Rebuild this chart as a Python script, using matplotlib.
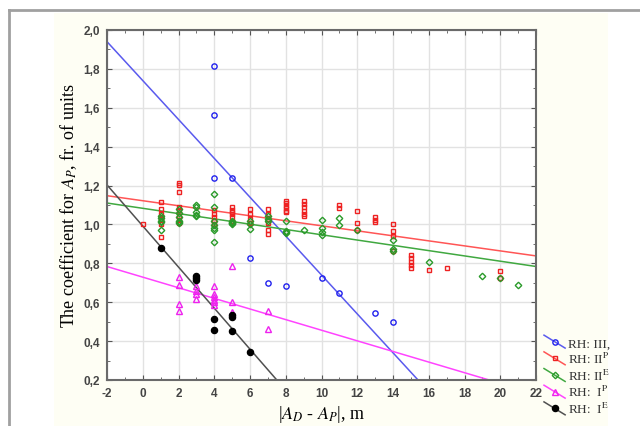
import numpy as np
import matplotlib.pyplot as plt
from matplotlib.legend_handler import HandlerLine2D
from matplotlib.lines import Line2D
from matplotlib.patches import Rectangle
from matplotlib.ticker import FuncFormatter, MultipleLocator

plt.rcParams['mathtext.fontset'] = 'stix'

# RH: III (blue circles)
x_iii = [4, 4, 4, 5, 6, 7, 8, 10, 11, 13, 14]
y_iii = [1.815, 1.563, 1.239, 1.239, 0.826, 0.698, 0.686, 0.725, 0.648, 0.543, 0.50]

# RH: II^P (red squares)
x_iip = [0, 1, 1, 1, 1, 1, 1, 1,
         2, 2, 2, 2, 2, 2, 2, 2,
         4, 4, 4, 4, 4,
         5, 5, 5, 5, 5, 5,
         6, 6, 6, 6,
         7, 7, 7, 7, 7, 7,
         8, 8, 8, 8, 8, 8,
         9, 9, 9, 9, 9, 9,
         11, 11, 12, 12, 12, 13, 13, 13,
         14, 14, 14, 14, 15, 15, 15, 15, 15,
         16, 17, 20, 20]
y_iip = [1.0, 1.118, 1.08, 1.055, 1.038, 1.03, 1.0, 0.935,
         1.215, 1.205, 1.168, 1.089, 1.072, 1.046, 1.025, 1.008,
         1.072, 1.055, 1.038, 1.02, 1.003,
         1.089, 1.072, 1.062, 1.055, 1.038, 1.02,
         1.077, 1.055, 1.03, 1.005,
         1.08, 1.055, 1.03, 1.01, 0.97, 0.95,
         1.123, 1.111, 1.097, 1.083, 1.071, 1.063,
         1.123, 1.106, 1.089, 1.071, 1.054, 1.042,
         1.101, 1.086, 1.067, 1.005, 0.972, 1.038, 1.024, 1.012,
         1.003, 0.964, 0.943, 0.866, 0.844, 0.827, 0.809, 0.792, 0.775,
         0.768, 0.777, 0.76, 0.724]

# RH: II^E (green diamonds)
x_iie = [1, 1, 1, 1, 1,
         2, 2, 2, 2, 2, 2,
         3, 3, 3, 3, 3,
         4, 4, 4, 4, 4, 4, 4,
         5, 5, 5, 5, 5,
         6, 6, 6,
         7, 7, 7,
         8, 8, 8, 8,
         9, 10, 10, 10, 10,
         11, 11, 12, 14, 14, 14,
         16, 19, 20, 21]
y_iie = [1.041, 1.035, 1.02, 1.012, 0.969,
         1.08, 1.06, 1.04, 1.02, 1.015, 1.01,
         1.101, 1.089, 1.064, 1.05, 1.046,
         1.158, 1.089, 1.02, 0.995, 0.98, 0.969, 0.912,
         1.02, 1.015, 1.01, 1.005, 1.0,
         1.02, 1.0, 0.975,
         1.045, 1.03, 1.02,
         1.017, 0.966, 0.96, 0.957,
         0.974, 1.025, 0.981, 0.96, 0.948,
         1.033, 0.995, 0.972, 0.922, 0.875, 0.866,
         0.809, 0.737, 0.725, 0.69]

# RH: I^P (magenta triangles)
x_ip = [2, 2, 2, 2, 3, 3, 3, 3, 4, 4, 4, 4, 4, 4, 5, 5, 5, 7, 7]
y_ip = [0.728, 0.69, 0.591, 0.554, 0.686, 0.66, 0.643, 0.617,
        0.686, 0.643, 0.626, 0.612, 0.6, 0.585, 0.786, 0.603, 0.549, 0.557, 0.463]

# RH: I^E (black dots)
x_ie = [1, 3, 3, 3, 4, 4, 5, 5, 5, 6]
y_ie = [0.88, 0.734, 0.725, 0.715, 0.514, 0.457, 0.535, 0.523, 0.452, 0.346]

# fitted lines: intercept, slope
fit_a = [1.74, 1.122, 1.083, 0.729, 0.992]
fit_b = [-0.100, -0.0129, -0.0136, -0.0273, -0.1056]

labels = ['RH: III,', r'RH: II$^{\mathrm{P}}$', r'RH: II$^{\mathrm{E}}$',
          r'RH:  I$^{\mathrm{P}}$', r'RH:  I$^{\mathrm{E}}$']
pt_colors = ['#2222ee', '#ee2222', '#2a9a2a', '#ee22ee', 'black']
ln_colors = ['#5a5aee', '#ff5555', '#40a840', '#ff44ff', '#505050']
markers = ['o', 's', 'D', '^', 'o']
sizes = [3.8, 3.5, 3.3, 3.9, 4.4]
xs = [x_iii, x_iip, x_iie, x_ip, x_ie]
ys = [y_iii, y_iip, y_iie, y_ip, y_ie]

fig = plt.figure(figsize=(6.4, 4.27), dpi=100)
fig.patch.set_facecolor('white')
fig.add_artist(Rectangle((54 / 640, 0), (608 - 54) / 640, 1 - 14 / 427,
                         transform=fig.transFigure, facecolor='#fefef4',
                         edgecolor='none', zorder=-5))
fig.add_artist(Line2D([9 / 640, 1], [1 - 11 / 427, 1 - 11 / 427],
                      transform=fig.transFigure, color='#a0a0a0', lw=2, zorder=-4))
fig.add_artist(Line2D([9 / 640, 9 / 640], [0, 1 - 11 / 427],
                      transform=fig.transFigure, color='#a0a0a0', lw=2, zorder=-4))

ax = fig.add_axes([107 / 640, 1 - 381 / 427, 429 / 640, 350 / 427])
ax.set_facecolor('white')

xl = np.linspace(-2, 22, 300)
handles = []
for i in range(5):
    mfc = 'black' if i == 4 else 'none'
    ax.plot(xs[i], ys[i], linestyle='none', marker=markers[i], ms=sizes[i],
            mfc=mfc, mec=pt_colors[i], mew=1.0, zorder=3)
    ax.plot(xl, fit_a[i] + fit_b[i] * xl, color=ln_colors[i], lw=1.1, zorder=2)
    handles.append(Line2D([], [], color=ln_colors[i], lw=1.1, marker=markers[i],
                          ms=sizes[i], mfc=mfc, mec=pt_colors[i], mew=1.0))

ax.set_xlim(-2, 22)
ax.set_ylim(0.2, 2.0)
ax.xaxis.set_major_locator(MultipleLocator(2))
ax.xaxis.set_minor_locator(MultipleLocator(1))
ax.yaxis.set_major_locator(MultipleLocator(0.2))
ax.yaxis.set_minor_locator(MultipleLocator(0.1))
ax.xaxis.set_major_formatter(FuncFormatter(lambda v, p: f"{v:.0f}"))
ax.yaxis.set_major_formatter(FuncFormatter(lambda v, p: f"{v:.1f}".replace('.', ',')))
ax.grid(True, which='major', color='#e2e2e2', lw=1.0, zorder=0)
ax.set_axisbelow(True)
ax.tick_params(which='both', direction='in', top=True, right=True,
               color='#555555', labelsize=8.5, labelcolor='#444444')
ax.tick_params(which='major', length=3.5, pad=5)
ax.tick_params(which='minor', length=2)
for lab in ax.get_xticklabels() + ax.get_yticklabels():
    lab.set_fontweight('bold')
    lab.set_family('Liberation Sans')
for s in ax.spines.values():
    s.set_color('#6a6a6a')
    s.set_linewidth(1.5)

ax.set_ylabel(r'The coefficient for $\mathit{A}_{P}$, fr. of units',
              family='Liberation Serif', fontsize=13, labelpad=3)
ax.set_xlabel(r'|$\mathit{A}_{D}$ - $\mathit{A}_{P}$|, m',
              family='Liberation Serif', fontsize=13, labelpad=3)


class DiagHandler(HandlerLine2D):
    def create_artists(self, legend, orig_handle, xdescent, ydescent,
                       width, height, fontsize, trans):
        arts = super().create_artists(legend, orig_handle, xdescent, ydescent,
                                      width, height, fontsize, trans)
        yc = (height - ydescent) / 2
        n = len(arts[0].get_xdata())
        arts[0].set_ydata(np.linspace(yc + height * 0.7, yc - height * 0.7, n))
        return arts


leg = fig.legend(handles, labels, loc='upper left',
                 bbox_to_anchor=(544 / 640, 1 - 338 / 427), frameon=False,
                 prop={'family': 'Liberation Serif', 'size': 9.5},
                 handlelength=1.6, handletextpad=0.2, labelspacing=0.12,
                 borderpad=0, borderaxespad=0,
                 handler_map={Line2D: DiagHandler()})
for t in leg.get_texts():
    t.set_color('#333333')

fig.savefig('out.png', dpi=100)
